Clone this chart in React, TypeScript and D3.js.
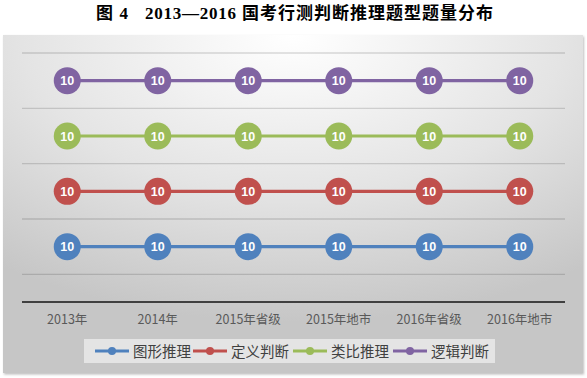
import React from "react";
import * as d3 from "d3";

const categories = ["2013年", "2014年", "2015年省级", "2015年地市", "2016年省级", "2016年地市"];
const seriesNames = ["图形推理", "定义判断", "类比推理", "逻辑判断"];
const seriesColors = ["#4f81bd", "#c0504d", "#9bbb59", "#8064a2"];
const tuxing = [10, 10, 10, 10, 10, 10];
const dingyi = [10, 10, 10, 10, 10, 10];
const leibi = [10, 10, 10, 10, 10, 10];
const luoji = [10, 10, 10, 10, 10, 10];
const gridValues = [5, 15, 25, 35, 45];
const titleParts = ["图 4", "2013—2016", "国考行测判断推理题型题量分布"];

export default function App() {
  const W = 587, H = 378;
  const x = d3.scaleBand<string>().domain(categories).range([22, 565]);
  const y = d3.scaleLinear().domain([0, 45]).range([302, 53]);
  const raw = [tuxing, dingyi, leibi, luoji];
  const stacked: number[][] = [];
  raw.forEach((s, i) => {
    stacked.push(s.map((v, j) => v + (i > 0 ? stacked[i - 1][j] : 0)));
  });
  const cx = (c: string) => (x(c) as number) + x.bandwidth() / 2;
  const line = d3.line<number>().x((_, j) => cx(categories[j])).y((v) => y(v));

  const legendItems = [
    { x: 95, textX: 133 },
    { x: 193, textX: 231 },
    { x: 293, textX: 331 },
    { x: 393, textX: 431 },
  ];
  const titleLayout = [
    { x: 96, len: 32 },
    { x: 145, len: 91 },
    { x: 242, len: 251 },
  ];

  return (
    <svg width={W} height={H} style={{ position: "absolute", left: 0, top: 0 }}>
      <defs>
        <radialGradient id="bg" cx="50%" cy="0%" r="85%" fx="50%" fy="0%">
          <stop offset="0%" stopColor="#ffffff" />
          <stop offset="55%" stopColor="#e4e4e4" />
          <stop offset="100%" stopColor="#c6c6c6" />
        </radialGradient>
        <filter id="sh" x="-5%" y="-5%" width="110%" height="110%">
          <feDropShadow dx="1" dy="1.5" stdDeviation="1.2" floodColor="#000" floodOpacity="0.25" />
        </filter>
      </defs>
      <rect x={0} y={0} width={W} height={H} fill="#ffffff" />
      <text
        y={18.5}
        fontSize={17}
        fontWeight="bold"
        fontFamily="'Liberation Serif', 'Noto Sans CJK SC', serif"
        fill="#000"
      >
        {titleParts.map((t, i) => (
          <tspan key={i} x={titleLayout[i].x} textLength={titleLayout[i].len} lengthAdjust="spacing">
            {t}
          </tspan>
        ))}
      </text>
      <rect x={3} y={35} width={580} height={338} fill="url(#bg)" filter="url(#sh)" />
      {gridValues.map((g) => (
        <line key={g} x1={22} x2={565} y1={y(g)} y2={y(g)} stroke="rgba(0,0,0,0.14)" strokeWidth={1.3} />
      ))}
      <line x1={22} x2={565} y1={y(0)} y2={y(0)} stroke="#404040" strokeWidth={2} />
      {categories.map((c) => (
        <text
          key={c}
          x={cx(c)}
          y={324}
          textAnchor="middle"
          fontSize={12.5}
          fontFamily="'Noto Sans CJK SC', sans-serif"
          fill="#595959"
        >
          {c}
        </text>
      ))}
      {stacked.map((s, i) => (
        <g key={i}>
          <path d={line(s) || ""} fill="none" stroke={seriesColors[i]} strokeWidth={3.2} />
          {s.map((v, j) => (
            <g key={j}>
              <circle cx={cx(categories[j])} cy={y(v)} r={13.5} fill={seriesColors[i]} />
              <text
                x={cx(categories[j])}
                y={y(v) + 4.5}
                textAnchor="middle"
                fontSize={12.5}
                fontWeight="bold"
                fontFamily="'Liberation Sans', Arial, sans-serif"
                fill="#ffffff"
              >
                {raw[i][j]}
              </text>
            </g>
          ))}
        </g>
      ))}
      <rect x={84} y={339} width={411} height={24} fill="#e9e9e9" opacity={0.85} />
      {legendItems.map((it, i) => (
        <g key={i}>
          <line x1={it.x} x2={it.x + 34} y1={351} y2={351} stroke={seriesColors[i]} strokeWidth={3} />
          <circle cx={it.x + 17} cy={351} r={4} fill={seriesColors[i]} />
          <text
            x={it.textX}
            y={356.5}
            fontSize={14.5}
            fontFamily="'Noto Sans CJK SC', sans-serif"
            fill="#404040"
          >
            {seriesNames[i]}
          </text>
        </g>
      ))}
    </svg>
  );
}
